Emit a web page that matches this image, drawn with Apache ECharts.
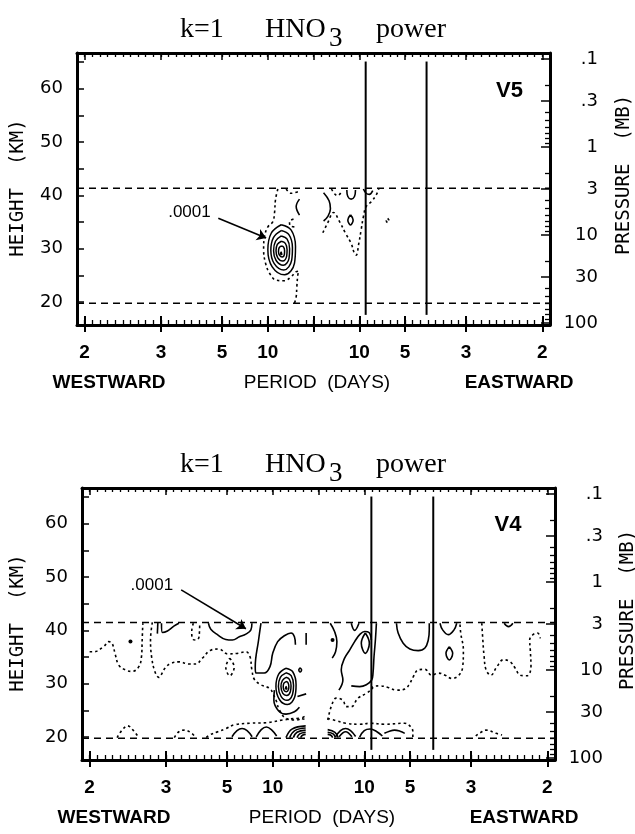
<!DOCTYPE html>
<html><head><meta charset="utf-8">
<script src="https://cdn.jsdelivr.net/npm/echarts@6/dist/echarts.min.js"></script>
<style>html,body{margin:0;padding:0;background:#fff}#c{width:635px;height:834px}</style>
</head><body><div id="c"></div>
<script>
// ---------- axis definitions ----------
const freqRange = [-31/60, 31/60];           // cycles/day, westward negative
const kmRange = [15.7, 66.7];
const periodTicks = [2, 3, 5, 10, 10, 5, 3, 2];
const periodSide  = [-1, -1, -1, -1, 1, 1, 1, 1];
const heightTicks = [20, 30, 40, 50, 60];
const heightMinor = [20, 25, 30, 35, 40, 45, 50, 55, 60, 65];
const pressureTicks  = [0.1, 0.3, 1, 3, 10, 30, 100];
const pressureLabels = ['.1', '.3', '1', '3', '10', '30', '100'];
const pressureMinor  = [0.2, 0.4, 0.5, 0.6, 0.7, 0.8, 0.9, 2, 4, 5, 6, 7, 8, 9, 20, 40, 50, 60, 70, 80, 90];
const panelNames = ['V5', 'V4'];

// ---------- panel V5 (top) ----------
const v5Rings = [
  [[-0.0706,34.5],[-0.0487,33.5],[-0.0393,30.4],[-0.0415,27.3],[-0.0633,25.1],[-0.0902,26.6],[-0.0997,29.8],[-0.0924,32.9],[-0.0706,34.5]],
  [[-0.0705,33.4],[-0.0534,32.6],[-0.046,30.2],[-0.0478,27.8],[-0.0648,26.0],[-0.0858,27.2],[-0.0932,29.7],[-0.0875,32.1],[-0.0705,33.4]],
  [[-0.0703,32.4],[-0.0576,31.8],[-0.0522,30.0],[-0.0535,28.2],[-0.0661,26.9],[-0.0817,27.8],[-0.0872,29.6],[-0.083,31.4],[-0.0703,32.4]],
  [[-0.0702,31.4],[-0.0615,31.0],[-0.0577,29.8],[-0.0586,28.6],[-0.0673,27.7],[-0.0781,28.3],[-0.0819,29.6],[-0.079,30.8],[-0.0702,31.4]],
  [[-0.0701,30.5],[-0.0653,30.3],[-0.0632,29.6],[-0.0637,28.9],[-0.0685,28.45],[-0.0744,28.8],[-0.0765,29.5],[-0.0749,30.2],[-0.0701,30.5]],
  [[-0.0725,28.9],[-0.069,28.9],[-0.0707,29.4],[-0.0725,28.9]]
];
const v5Solid = [
  [[-0.0306,39.3],[-0.0378,37.9],[-0.0306,36.3]],
  [[0.022,40.5],[0.034,39.0],[0.037,37.5],[0.031,36.0],[0.022,35.2]],
  [[0.0728,41.0],[0.075,39.8],[0.0822,39.3],[0.0895,39.8],[0.0917,41.0]],
  [[0.109,41.2],[0.115,40.4],[0.122,40.2],[0.1295,40.9]],
  [[0.0808,36.35],[0.0866,35.4],[0.0808,34.45],[0.075,35.4],[0.0808,36.35]]
];
const v5Dotted = [
  [[-0.0779,41.2],[-0.083,39.2],[-0.0852,36.7],[-0.0888,35.1],[-0.0997,34.1],[-0.107,32.3],[-0.109,29.8],[-0.1048,27.3],[-0.096,25.4],[-0.0815,24.1],[-0.0633,24.0],[-0.0487,24.75],[-0.0378,25.7],[-0.032,25.8],[-0.0342,25.1],[-0.0364,22.9],[-0.0378,21.0],[-0.0415,19.8]],
  [[-0.0597,41.2],[-0.0487,40.4],[-0.0306,40.8]],
  [[-0.0437,35.55],[-0.0524,35.1],[-0.051,34.3],[-0.0393,34.1]],
  [[0.0393,41.2],[0.0459,40.3],[0.053,39.95],[0.0604,40.6]],
  [[0.0204,33.0],[0.0313,34.9],[0.0437,36.8],[0.0568,35.1],[0.0699,32.9],[0.0822,31.0],[0.0895,29.1],[0.0932,28.8],[0.099,31.0],[0.104,33.5],[0.109,36.0],[0.115,37.9],[0.126,38.8],[0.137,40.1],[0.1426,41.2]],
  [[0.162,35.7],[0.165,35.3],[0.162,34.9],[0.159,35.3],[0.162,35.7]]
];
const v5DashedKm = [41.35, 19.8];
const v5CriticalFreq = [0.114, 0.247];
const v5CriticalKm = [17.6, 65.1];
const v5Arrow = [[-0.208, 35.7], [-0.1035, 32.0]];
const v5LabelPos = [-0.271, 36.9];
const v5NamePos = [0.428, 59.6];

// ---------- panel V4 (bottom) ----------
const v4Rings = [
  [[-0.071,32.9],[-0.056,32.2],[-0.049,29.8],[-0.052,27.5],[-0.068,26.1],[-0.085,27.0],[-0.093,29.5],[-0.087,31.8],[-0.071,32.9]],
  [[-0.071,32.05],[-0.0597,31.5],[-0.0545,29.7],[-0.0568,28.0],[-0.0688,26.9],[-0.0815,27.6],[-0.0876,29.5],[-0.0833,31.2],[-0.071,32.05]],
  [[-0.071,31.2],[-0.0635,30.8],[-0.06,29.6],[-0.0615,28.5],[-0.0695,27.8],[-0.078,28.2],[-0.082,29.5],[-0.079,30.6],[-0.071,31.2]],
  [[-0.071,30.4],[-0.0668,30.2],[-0.0648,29.5],[-0.0656,28.9],[-0.0702,28.5],[-0.0749,28.7],[-0.0771,29.45],[-0.0755,30.1],[-0.071,30.4]],
  [[-0.0725,29.0],[-0.069,29.0],[-0.0707,29.5],[-0.0725,29.0]]
];
const v4Solid = [
  [[-0.0965,28.8],[-0.0975,26.9],[-0.087,24.9],[-0.0709,24.3],[-0.0526,24.75],[-0.0417,25.6]],
  [[-0.046,27.6],[-0.027,28.1]],
  [[-0.0401,33.0],[-0.037,32.6],[-0.0401,32.2],[-0.043,32.6],[-0.0401,33.0]],
  [[-0.351,41.4],[-0.352,39.4]],
  [[-0.343,41.35],[-0.341,39.6],[-0.33,39.9],[-0.316,40.8],[-0.305,41.35]],
  [[-0.2405,41.35],[-0.2353,40.2],[-0.2208,39.2],[-0.2025,38.3],[-0.188,38.2],[-0.173,38.8],[-0.1586,39.3],[-0.1477,40.1],[-0.1455,41.35]],
  [[-0.1257,41.35],[-0.1309,38.2],[-0.1382,33.2],[-0.1367,32.0],[-0.1184,32.0],[-0.106,33.2],[-0.1,35.7],[-0.0892,37.9],[-0.0746,39.0],[-0.06,39.5],[-0.0526,38.8],[-0.0504,37.3]],
  [[-0.027,39.5],[-0.027,37.3]],
  [[0.0256,41.35],[0.0351,39.8],[0.0402,37.9],[0.0373,36.0],[0.03,34.8]],
  [[0.0716,41.35],[0.0789,40.0],[0.0884,41.35]],
  [[0.0446,28.8],[0.0533,30.7],[0.0497,32.6],[0.057,34.8],[0.068,36.3],[0.079,37.9],[0.0899,39.2],[0.1009,39.8],[0.1104,39.6],[0.1155,38.2]],
  [[0.1023,39.5],[0.1111,37.6],[0.1023,35.7],[0.0935,37.6],[0.1023,39.5]],
  [[0.1265,41.35],[0.1243,38.2],[0.1213,35.1],[0.1191,32.0],[0.1162,30.7],[0.1045,29.8],[0.0899,29.45],[0.0716,29.6]],
  [[0.1703,41.35],[0.174,39.5],[0.185,37.6],[0.1996,36.5],[0.2178,36.2],[0.2325,36.7],[0.2398,38.2],[0.242,40.1],[0.242,41.35]],
  [[0.2654,41.35],[0.2712,40.1],[0.2836,39.2],[0.296,40.1],[0.302,41.35]],
  [[0.2858,36.95],[0.2931,35.7],[0.2858,34.45],[0.2785,35.7],[0.2858,36.95]],
  [[0.4056,41.35],[0.4152,40.7],[0.4247,41.35]],
  // arcs near the lower boundary
  [[-0.189,20.05],[-0.178,21.2],[-0.167,21.6],[-0.156,21.2],[-0.145,20.05]],
  [[-0.136,20.05],[-0.125,21.4],[-0.114,21.9],[-0.103,21.4],[-0.0914,20.2]],
  [[-0.039,19.9],[-0.035,20.35],[-0.028,20.5]],
  [[-0.047,19.9],[-0.041,20.6],[-0.028,20.9]],
  [[-0.055,19.9],[-0.047,20.9],[-0.028,21.3]],
  [[-0.063,19.9],[-0.052,21.2],[-0.028,21.7]],
  [[-0.071,19.9],[-0.058,21.5],[-0.028,22.1]],
  [[0.02,20.5],[0.027,20.35],[0.031,19.9]],
  [[0.02,20.9],[0.032,20.6],[0.037,19.9]],
  [[0.02,21.4],[0.036,20.9],[0.043,19.9]],
  [[0.0373,20.05],[0.048,21.2],[0.0592,21.6],[0.07,21.2],[0.0811,20.1]],
  [[0.045,20.05],[0.0592,21.0],[0.073,20.05]],
  [[0.0899,20.0],[0.1,21.2],[0.1127,21.5],[0.126,21.1],[0.1395,20.2]],
  [[0.1439,20.7],[0.155,21.1],[0.166,21.3],[0.178,21.1],[0.1884,20.7]]
];
const v4Dotted = [
  [[-0.50,36.0],[-0.491,36.0],[-0.469,37.0],[-0.458,37.9],[-0.451,37.6],[-0.4437,35.4],[-0.4364,33.5],[-0.4218,32.6],[-0.4072,32.3],[-0.3925,33.2],[-0.3867,35.1],[-0.3852,38.2],[-0.3838,41.35]],
  [[-0.363,41.5],[-0.367,38.2],[-0.3647,35.1],[-0.3575,32.3],[-0.349,31.2],[-0.3355,32.9],[-0.323,33.8],[-0.305,34.1],[-0.283,33.7],[-0.268,33.7],[-0.2537,34.8],[-0.2353,36.3],[-0.217,36.5],[-0.1988,35.6],[-0.177,35.7],[-0.1586,36.0],[-0.1498,35.1],[-0.1455,32.6],[-0.140,30.8],[-0.1257,29.8],[-0.106,29.1],[-0.1,28.2],[-0.0928,26.9],[-0.0855,25.1],[-0.0709,23.5],[-0.049,23.2],[-0.027,24.1]],
  [[-0.2734,41.35],[-0.277,39.8],[-0.274,38.3],[-0.2668,38.2],[-0.261,38.8],[-0.2595,41.35]],
  [[-0.1937,34.8],[-0.1842,33.1],[-0.1937,31.5],[-0.2025,33.1],[-0.1937,34.8]],
  [[0.0204,23.2],[0.0278,25.7],[0.0388,27.3],[0.0533,26.9],[0.0607,25.7],[0.0716,25.7],[0.0862,27.3],[0.1045,28.2],[0.1177,29.1],[0.1191,29.45],[0.1338,29.6],[0.152,29.3],[0.1703,28.8],[0.1886,29.0],[0.1996,30.1],[0.2069,31.3],[0.2178,32.6],[0.2325,32.7],[0.2471,31.6],[0.2617,32.0],[0.2763,31.6],[0.291,31.0],[0.3055,31.5],[0.3151,33.2],[0.3165,36.3],[0.3107,39.5],[0.309,41.35]],
  [[0.3567,41.35],[0.359,38.2],[0.3618,35.1],[0.3662,32.6],[0.3765,31.6],[0.3897,33.2],[0.4042,34.5],[0.4189,34.1],[0.4298,32.9],[0.4408,31.6],[0.4555,31.5],[0.4642,33.2],[0.4627,36.3],[0.4613,38.2],[0.4686,39.2],[0.4788,39.5],[0.4846,38.5]],
  [[-0.44,19.9],[-0.43,21.2],[-0.417,22.1],[-0.405,21.3],[-0.395,20.2]],
  [[-0.315,19.9],[-0.305,21.0],[-0.293,21.3],[-0.28,20.9],[-0.27,20.1]],
  [[-0.245,19.9],[-0.238,20.4],[-0.22,21.0],[-0.202,21.6],[-0.184,22.3],[-0.149,22.6],[-0.114,22.7],[-0.0785,23.2],[-0.043,23.5],[-0.028,23.3]],
  [[0.0197,23.5],[0.0373,23.1],[0.0592,22.6],[0.0899,22.4],[0.1127,22.6],[0.1439,22.4],[0.1884,22.6],[0.2018,21.9],[0.2061,21.0],[0.2061,20.0]],
  [[0.3436,20.2],[0.355,20.9],[0.3658,21.3],[0.388,20.7],[0.401,20.4]]
];
const v4Dots = [[-0.4108, 37.9], [0.0307, 38.2]];
const v4DashedKm = [41.5, 19.8];
const v4CriticalFreq = [0.1155, 0.2507];
const v4CriticalKm = [17.6, 65.1];
const v4Arrow = [[-0.300, 47.6], [-0.1586, 40.3]];
const v4LabelPos = [-0.364, 48.5];
const v4NamePos = [0.414, 59.8];

// ---------- helpers ----------
const pressureKm = p => 16.06 + 16.5 * Math.log10(100 / p);
const xLabelFreqs = periodTicks.map((p, i) => periodSide[i] / p);
const xMajor = xLabelFreqs.concat([0]);
const xMinor = [];
for (let k = -31; k <= 31; k++) xMinor.push(k / 60);
const pKm = pressureTicks.map(pressureKm);
const pMinorKm = pressureMinor.map(pressureKm);

const panelRects = [
  { left: 77, top: 53, width: 473, height: 272 },
  { left: 82, top: 488, width: 473, height: 272 }
];
const BLACK = '#000';
const grids = [], xAxes = [], yAxes = [];
// per panel: 3 overlapping grids (main axes, minor ticks, long inner major ticks)
panelRects.forEach((r, pi) => {
  const g0 = pi * 3, g1 = g0 + 1, g2 = g0 + 2;
  grids.push(Object.assign({}, r), Object.assign({}, r), Object.assign({}, r));
  const xb = gi => ({ type: 'value', gridIndex: gi, min: freqRange[0], max: freqRange[1], splitLine: { show: false } });
  const yb = gi => ({ type: 'value', gridIndex: gi, min: kmRange[0], max: kmRange[1], splitLine: { show: false } });
  // x axes (5 per panel)
  xAxes.push(Object.assign(xb(g0), { position: 'bottom',
    axisLine: { show: true, onZero: false, lineStyle: { color: BLACK, width: 3 } },
    axisTick: { show: true, inside: false, length: 7, customValues: xMajor, lineStyle: { color: BLACK, width: 2 } },
    axisLabel: { show: true, customValues: xLabelFreqs, margin: 18, color: BLACK, fontFamily: 'Liberation Sans', fontWeight: 'bold', fontSize: 19,
      formatter: v => { const i = xLabelFreqs.findIndex(f => Math.abs(f - v) < 1e-6); return i >= 0 ? String(periodTicks[i]) : ''; } } }));
  xAxes.push(Object.assign(xb(g0), { position: 'top',
    axisLine: { show: true, onZero: false, lineStyle: { color: BLACK, width: 3 } },
    axisTick: { show: true, inside: true, length: 7, customValues: xMajor, lineStyle: { color: BLACK, width: 1.5 } }, axisLabel: { show: false } }));
  xAxes.push(Object.assign(xb(g1), { position: 'bottom', axisLine: { show: false, onZero: false },
    axisTick: { show: true, inside: true, length: 5, customValues: xMinor, lineStyle: { color: BLACK, width: 1.3 } }, axisLabel: { show: false } }));
  xAxes.push(Object.assign(xb(g1), { position: 'top', axisLine: { show: false, onZero: false },
    axisTick: { show: true, inside: true, length: 4, customValues: xMinor, lineStyle: { color: BLACK, width: 1.3 } }, axisLabel: { show: false } }));
  xAxes.push(Object.assign(xb(g2), { position: 'bottom', axisLine: { show: false, onZero: false },
    axisTick: { show: true, inside: true, length: 9, customValues: xMajor, lineStyle: { color: BLACK, width: 2 } }, axisLabel: { show: false } }));
  // y axes (4 per panel)
  yAxes.push(Object.assign(yb(g0), { position: 'left',
    axisLine: { show: true, onZero: false, lineStyle: { color: BLACK, width: 3 } },
    axisTick: { show: true, inside: true, length: 7, customValues: heightMinor, lineStyle: { color: BLACK, width: 1.5 } },
    axisLabel: { show: true, customValues: heightTicks, margin: 14, color: BLACK, fontFamily: 'DejaVu Sans', fontSize: 18 } }));
  yAxes.push(Object.assign(yb(g0), { position: 'right',
    axisLine: { show: true, onZero: false, lineStyle: { color: BLACK, width: 3 } },
    axisTick: { show: true, inside: true, length: 9, customValues: pKm, lineStyle: { color: BLACK, width: 1.5 } },
    axisLabel: { show: true, customValues: pKm, margin: 48, align: 'right', color: BLACK, fontFamily: 'DejaVu Sans', fontSize: 18,
      formatter: v => { const i = pKm.findIndex(f => Math.abs(f - v) < 1e-6); return i >= 0 ? pressureLabels[i] : ''; } } }));
  yAxes.push(Object.assign(yb(g1), { position: 'right', axisLine: { show: false, onZero: false },
    axisTick: { show: true, inside: true, length: 5, customValues: pMinorKm, lineStyle: { color: BLACK, width: 1.3 } }, axisLabel: { show: false } }));
  yAxes.push(Object.assign(yb(g2), { position: 'left', show: false }));
});

const series = [];
const XI = pi => pi * 5, YI = pi => pi * 4;
function addLine(pi, pts, type, width, smooth) {
  series.push({ type: 'line', xAxisIndex: XI(pi), yAxisIndex: YI(pi), data: pts, symbol: 'none', smooth: smooth,
    lineStyle: { color: BLACK, width: width, type: type }, silent: true, animation: false, z: 3 });
}
const panels = [
  { rings: v5Rings, solid: v5Solid, dotted: v5Dotted, dots: [], dashed: v5DashedKm, crit: v5CriticalFreq, critKm: v5CriticalKm, arrow: v5Arrow, label: v5LabelPos, name: v5NamePos },
  { rings: v4Rings, solid: v4Solid, dotted: v4Dotted, dots: v4Dots, dashed: v4DashedKm, crit: v4CriticalFreq, critKm: v4CriticalKm, arrow: v4Arrow, label: v4LabelPos, name: v4NamePos }
];
panels.forEach((p, pi) => {
  p.rings.forEach(r => addLine(pi, r, 'solid', 1.5, 0.4));
  p.solid.forEach(r => addLine(pi, r, 'solid', 1.6, 0.4));
  p.dotted.forEach(r => addLine(pi, r, [2.5, 3], 1.6, 0.4));
  p.dashed.forEach(km => addLine(pi, [[freqRange[0], km], [freqRange[1], km]], [7, 5], 1.5, false));
  p.crit.forEach(f => addLine(pi, [[f, p.critKm[0]], [f, p.critKm[1]]], 'solid', 2, false));
  series.push({ type: 'lines', coordinateSystem: 'cartesian2d', xAxisIndex: XI(pi), yAxisIndex: YI(pi), silent: true, animation: false,
    symbol: ['none', 'arrow'], symbolSize: 9, lineStyle: { color: BLACK, width: 1.6, opacity: 1 },
    data: [{ coords: p.arrow }] });
  series.push({ type: 'scatter', xAxisIndex: XI(pi), yAxisIndex: YI(pi), symbolSize: 1, silent: true, animation: false,
    itemStyle: { opacity: 0 },
    data: [{ value: p.label, label: { show: true, opacity: 1, formatter: '.0001', position: 'inside', color: BLACK, fontFamily: 'Liberation Sans', fontSize: 17 } },
           { value: p.name, label: { show: true, opacity: 1, formatter: panelNames[pi], position: 'inside', color: BLACK, fontFamily: 'Liberation Sans', fontWeight: 'bold', fontSize: 22 } }] });
  if (p.dots.length) series.push({ type: 'scatter', xAxisIndex: XI(pi), yAxisIndex: YI(pi), symbol: 'circle', symbolSize: 4, silent: true, animation: false,
    itemStyle: { color: BLACK, opacity: 1 }, data: p.dots });
});

// ---------- static text ----------
const graphic = [];
[0, 435].forEach(dy => {
  const serif = 'Liberation Serif';
  graphic.push({ type: 'text', x: 180, y: 44 + dy, style: { text: 'k=1', fontFamily: serif, fontSize: 28, fill: BLACK, textAlign: 'left', textVerticalAlign: 'bottom' } });
  graphic.push({ type: 'text', x: 265, y: 44 + dy, style: { text: 'HNO', fontFamily: serif, fontSize: 28, fill: BLACK, textAlign: 'left', textVerticalAlign: 'bottom' } });
  graphic.push({ type: 'text', x: 329, y: 52 + dy, style: { text: '3', fontFamily: serif, fontSize: 27, fill: BLACK, textAlign: 'left', textVerticalAlign: 'bottom' } });
  graphic.push({ type: 'text', x: 376, y: 44 + dy, style: { text: 'power', fontFamily: serif, fontSize: 28, fill: BLACK, textAlign: 'left', textVerticalAlign: 'bottom' } });
  const sx = dy ? 0 : -5;
  graphic.push({ type: 'text', x: 114 + sx, y: 383 + dy, style: { text: 'WESTWARD', fontFamily: 'Liberation Sans', fontWeight: 'bold', fontSize: 19, fill: BLACK, textAlign: 'center', textVerticalAlign: 'middle' } });
  graphic.push({ type: 'text', x: 322 + sx, y: 383 + dy, style: { text: 'PERIOD  (DAYS)', fontFamily: 'Liberation Sans', fontSize: 19, fill: BLACK, textAlign: 'center', textVerticalAlign: 'middle' } });
  graphic.push({ type: 'text', x: 524 + sx, y: 383 + dy, style: { text: 'EASTWARD', fontFamily: 'Liberation Sans', fontWeight: 'bold', fontSize: 19, fill: BLACK, textAlign: 'center', textVerticalAlign: 'middle' } });
  graphic.push({ type: 'text', x: 18, y: 188 + dy, rotation: Math.PI / 2, style: { text: 'HEIGHT  (KM)', fontFamily: 'DejaVu Sans Mono', fontSize: 19, fill: BLACK, textAlign: 'center', textVerticalAlign: 'middle' } });
  graphic.push({ type: 'text', x: 624 + (dy ? 4 : 0), y: 175 + dy, rotation: Math.PI / 2, style: { text: 'PRESSURE  (MB)', fontFamily: 'DejaVu Sans Mono', fontSize: 19, fill: BLACK, textAlign: 'center', textVerticalAlign: 'middle' } });
});

const chart = echarts.init(document.getElementById('c'));
chart.setOption({
  animation: false,
  backgroundColor: '#fff',
  grid: grids,
  xAxis: xAxes,
  yAxis: yAxes,
  series: series,
  graphic: graphic
});
</script>
</body></html>
